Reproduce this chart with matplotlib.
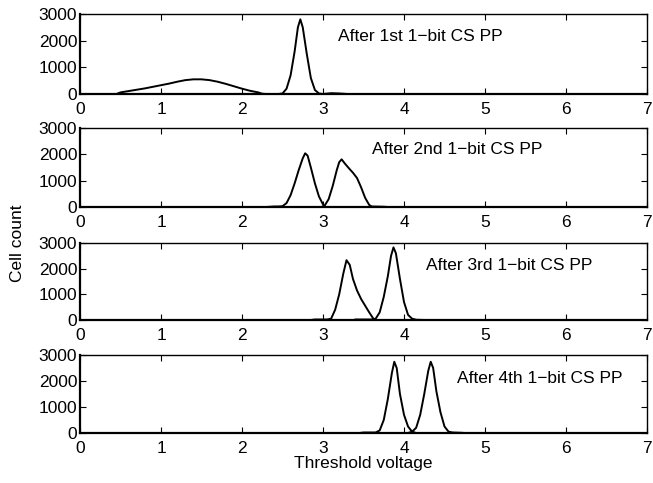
import matplotlib
matplotlib.use("Agg")
import matplotlib.pyplot as plt

plt.rcParams['font.family'] = ['Liberation Sans', 'DejaVu Sans']
plt.rcParams['font.size'] = 12.5

# ---- data ----
# Panel 1
p1_a_x = [0.0, 0.45, 0.5, 0.6, 0.7, 0.8, 0.9, 1.0, 1.1, 1.2, 1.3, 1.4, 1.5, 1.6, 1.7, 1.8, 1.9, 2.0, 2.1, 2.2, 2.25, 2.3]
p1_a_y = [0, 0, 60, 110, 160, 210, 270, 330, 390, 460, 520, 550, 550, 520, 460, 380, 290, 200, 120, 60, 10, 0]
p1_b_x = [2.3, 2.45, 2.5, 2.55, 2.6, 2.65, 2.69, 2.72, 2.75, 2.8, 2.85, 2.9, 2.95, 3.0, 3.1, 3.2, 3.3, 7.0]
p1_b_y = [0, 0, 20, 200, 700, 1600, 2500, 2800, 2500, 1500, 600, 150, 20, 0, 30, 20, 0, 0]

# Panel 2
p2_a_x = [0.0, 2.3, 2.4, 2.45, 2.5, 2.55, 2.6, 2.65, 2.7, 2.75, 2.78, 2.81, 2.85, 2.9, 2.95, 3.0, 3.03]
p2_a_y = [0, 0, 20, 20, 30, 150, 450, 900, 1400, 1850, 2040, 1950, 1500, 900, 400, 100, 0]
p2_b_x = [2.9, 2.98, 3.02, 3.07, 3.12, 3.17, 3.2, 3.23, 3.27, 3.32, 3.37, 3.42, 3.47, 3.52, 3.57, 3.6, 3.75, 3.8, 7.0]
p2_b_y = [0, 0, 50, 300, 800, 1400, 1700, 1810, 1650, 1470, 1300, 1100, 750, 350, 80, 20, 10, 0, 0]

# Panel 3
p3_a_x = [0.0, 2.85, 2.9, 3.05, 3.1, 3.15, 3.2, 3.25, 3.29, 3.33, 3.37, 3.42, 3.47, 3.52, 3.57, 3.62, 3.65]
p3_a_y = [0, 0, 20, 20, 50, 400, 1000, 1800, 2330, 2150, 1600, 1150, 820, 560, 300, 60, 0]
p3_b_x = [3.4, 3.6, 3.65, 3.7, 3.75, 3.8, 3.84, 3.87, 3.9, 3.95, 4.0, 4.05, 4.1, 4.15, 4.25, 7.0]
p3_b_y = [20, 20, 50, 300, 900, 1700, 2500, 2830, 2600, 1600, 700, 200, 50, 10, 0, 0]

# Panel 4
p4_a_x = [0.0, 3.45, 3.5, 3.65, 3.7, 3.75, 3.8, 3.85, 3.88, 3.91, 3.95, 4.0, 4.05, 4.1, 4.15]
p4_a_y = [0, 0, 20, 20, 100, 500, 1300, 2300, 2740, 2500, 1500, 700, 250, 50, 0]
p4_b_x = [3.9, 4.05, 4.1, 4.15, 4.2, 4.25, 4.3, 4.33, 4.36, 4.4, 4.45, 4.5, 4.55, 4.6, 4.7, 4.75, 7.0]
p4_b_y = [0, 0, 50, 200, 700, 1500, 2400, 2740, 2500, 1600, 800, 250, 50, 20, 10, 0, 0]

panel_labels = ["After 1st 1\u2212bit CS PP", "After 2nd 1\u2212bit CS PP",
                "After 3rd 1\u2212bit CS PP", "After 4th 1\u2212bit CS PP"]
label_pos = [(3.18, 2140), (3.60, 2190), (4.27, 2140), (4.66, 2100)]
x_ticks = [0, 1, 2, 3, 4, 5, 6, 7]
y_ticks = [0, 1000, 2000, 3000]

panels = [
    [(p1_a_x, p1_a_y), (p1_b_x, p1_b_y)],
    [(p2_a_x, p2_a_y), (p2_b_x, p2_b_y)],
    [(p3_a_x, p3_a_y), (p3_b_x, p3_b_y)],
    [(p4_a_x, p4_a_y), (p4_b_x, p4_b_y)],
]

fig = plt.figure(figsize=(6.53, 4.83), dpi=100)
W, H = 653.0, 483.0
boxes = [(14, 94), (128, 207), (243, 320), (355, 433)]
left, right = 80, 647

for i, (top, bot) in enumerate(boxes):
    ax = fig.add_axes([left / W, 1 - bot / H, (right - left) / W, (bot - top) / H])
    for xs, ys in panels[i]:
        ax.plot(xs, ys, color='black', lw=1.4)
    ax.set_xlim(0, 7)
    ax.set_ylim(0, 3000)
    ax.set_xticks(x_ticks)
    ax.set_yticks(y_ticks)
    ax.tick_params(direction='in', top=True, right=True, length=4, width=0.8,
                   labelsize=12.5)
    ax.tick_params(axis='x', pad=6)
    ax.tick_params(axis='y', pad=2)
    for s in ax.spines.values():
        s.set_linewidth(1.0)
    ax.spines['left'].set_linewidth(1.6)
    ax.spines['bottom'].set_linewidth(1.6)
    lx, ly = label_pos[i]
    ax.text(lx, ly, panel_labels[i], ha='left', va='center', fontsize=12.5)
    if i == 3:
        ax.set_xlabel("Threshold voltage", fontsize=12.5, labelpad=0)

fig.text(18 / W, 1 - 243 / H, "Cell count", rotation=90, ha='center', va='center', fontsize=12.5)

fig.savefig("out.png", dpi=100)
